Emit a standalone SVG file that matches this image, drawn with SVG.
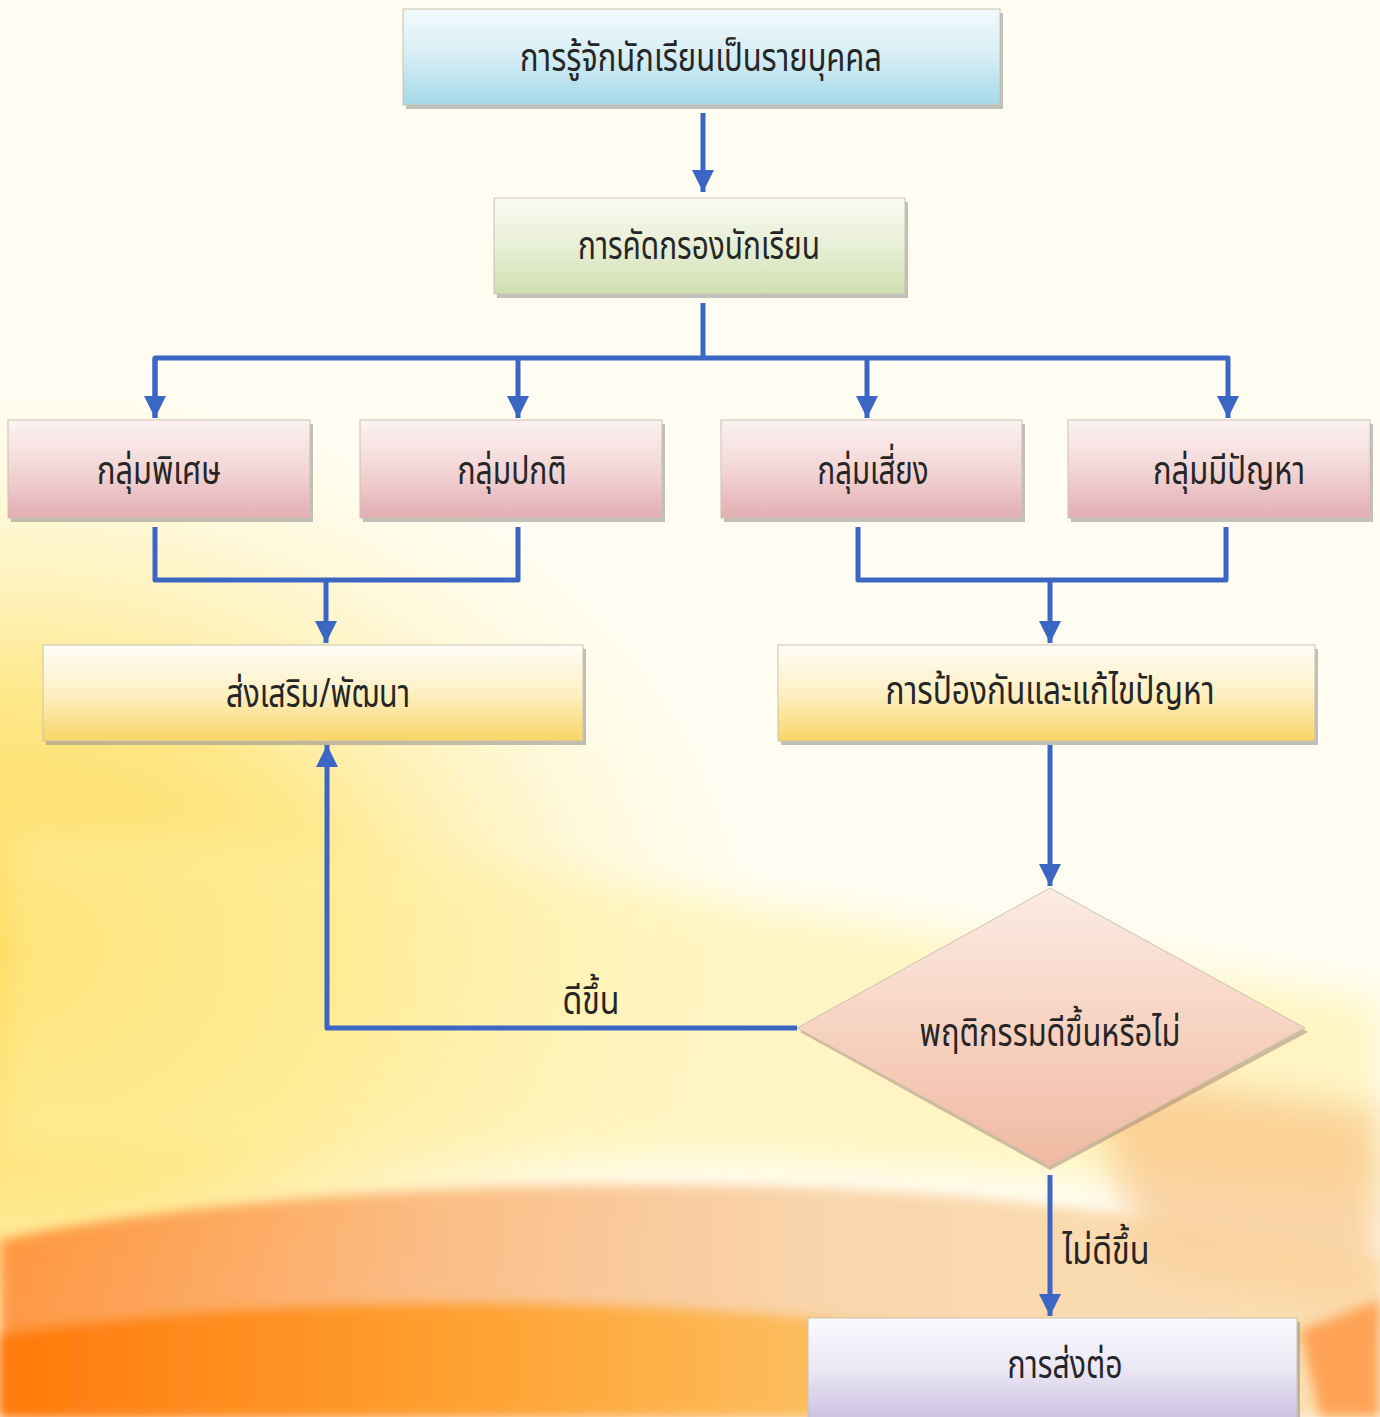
<svg xmlns="http://www.w3.org/2000/svg" width="1380" height="1417" viewBox="0 0 1380 1417">
<defs>
  <style>
    .lbl{font-family:"Noto Sans Thai","Loma","Garuda","Tlwg Typo","Norasi","DejaVu Sans","Noto Sans",sans-serif;font-size:40px;fill:#262626;text-anchor:middle}
    .conn{fill:none;stroke:#3b66c4;stroke-width:5;stroke-linejoin:round;stroke-linecap:butt}
    .edge{stroke:#c9c2b0;stroke-width:1}
    .shadow{fill:#8c8c8c;opacity:.55}
  </style>
  <marker id="ah" viewBox="0 0 10 10" refX="10" refY="5" markerWidth="22" markerHeight="22" markerUnits="userSpaceOnUse" orient="auto">
    <path d="M0,0 L10,5 L0,10 Z" fill="#3b66c4"/>
  </marker>
  <linearGradient id="gBlue" x1="0" y1="0" x2="0" y2="1">
    <stop offset="0" stop-color="#f3fafc"/><stop offset="0.45" stop-color="#d9eff6"/><stop offset="1" stop-color="#a6d8e9"/>
  </linearGradient>
  <linearGradient id="gGreen" x1="0" y1="0" x2="0" y2="1">
    <stop offset="0" stop-color="#f8faf1"/><stop offset="0.5" stop-color="#e8efd6"/><stop offset="1" stop-color="#cfdfb0"/>
  </linearGradient>
  <linearGradient id="gRed" x1="0" y1="0" x2="0" y2="1">
    <stop offset="0" stop-color="#fcf3f2"/><stop offset="0.5" stop-color="#f3d6d6"/><stop offset="1" stop-color="#e3aeb2"/>
  </linearGradient>
  <linearGradient id="gYellow" x1="0" y1="0" x2="0" y2="1">
    <stop offset="0" stop-color="#fffef8"/><stop offset="0.5" stop-color="#fdf0c4"/><stop offset="1" stop-color="#f9d566"/>
  </linearGradient>
  <linearGradient id="gPeach" x1="0" y1="0" x2="0" y2="1">
    <stop offset="0" stop-color="#fcebe3"/><stop offset="0.5" stop-color="#f7d3c2"/><stop offset="1" stop-color="#f0b9a1"/>
  </linearGradient>
  <linearGradient id="gPurple" x1="0" y1="0" x2="0" y2="1">
    <stop offset="0" stop-color="#fbfbfe"/><stop offset="0.5" stop-color="#ebe7f4"/><stop offset="1" stop-color="#cbc1e2"/>
  </linearGradient>
  <radialGradient id="bgYellowL" cx="0" cy="950" r="760" gradientUnits="userSpaceOnUse" gradientTransform="translate(0 950) scale(1 0.75) translate(0 -950)">
    <stop offset="0" stop-color="#ffd650"/><stop offset="0.45" stop-color="#ffe88a"/><stop offset="1" stop-color="#fff6c8" stop-opacity="0"/>
  </radialGradient>
  <linearGradient id="bgBottom" x1="0" y1="0" x2="1" y2="0">
    <stop offset="0" stop-color="#ff7a20"/><stop offset="0.3" stop-color="#f9a868"/><stop offset="0.6" stop-color="#f8c995"/><stop offset="1" stop-color="#fbd7a0"/>
  </linearGradient>
  <linearGradient id="bgBottom2" x1="0" y1="0" x2="1" y2="0">
    <stop offset="0" stop-color="#ff7a0c"/><stop offset="0.35" stop-color="#ffa030"/><stop offset="0.7" stop-color="#fcc56a"/><stop offset="1" stop-color="#ff9a45"/>
  </linearGradient>
  <filter id="blur" x="-20%" y="-20%" width="140%" height="140%"><feGaussianBlur stdDeviation="18"/></filter>
  <filter id="blurS" x="-20%" y="-20%" width="140%" height="140%"><feGaussianBlur stdDeviation="6"/></filter>
</defs>

<g id="background">
  <rect x="0" y="0" width="1380" height="1417" fill="#fffdf2"/>
  <rect x="0" y="400" width="1380" height="1017" fill="url(#bgYellowL)"/>
  <path d="M0,820 C400,840 900,930 1380,1000 L1380,1200 C900,1160 400,1150 0,1150 Z" fill="#fff0a0" opacity="0.55" filter="url(#blur)"/>
  <path d="M1080,1070 L1380,1110 L1380,1320 L1150,1270 Z" fill="#f8c080" opacity="0.65" filter="url(#blur)"/>
  <path d="M0,1240 C250,1185 700,1170 1000,1200 C1150,1215 1300,1240 1380,1260 L1380,1417 L0,1417 Z" fill="url(#bgBottom)" opacity="0.75" filter="url(#blurS)"/>
  <path d="M0,1335 C300,1290 700,1295 1000,1340 C1150,1365 1250,1395 1300,1417 L0,1417 Z" fill="url(#bgBottom2)" filter="url(#blurS)"/>
  <path d="M1300,1330 L1380,1300 L1380,1417 L1320,1417 Z" fill="#ff9540" opacity="0.8" filter="url(#blurS)"/>
</g>

<g id="connectors">
  <path class="conn" d="M703,113 V192" marker-end="url(#ah)"/>
  <path class="conn" d="M703,303 V358"/>
  <path class="conn" d="M155,418 V358 H1228 V418" marker-end="url(#ah)"/>
  <path class="conn" d="M155,358 V418" marker-end="url(#ah)"/>
  <path class="conn" d="M518,358 V418" marker-end="url(#ah)"/>
  <path class="conn" d="M867,358 V418" marker-end="url(#ah)"/>
  <path class="conn" d="M155,527 V580 H518 V527"/>
  <path class="conn" d="M326,580 V643" marker-end="url(#ah)"/>
  <path class="conn" d="M858,527 V580 H1226 V527"/>
  <path class="conn" d="M1050,580 V643" marker-end="url(#ah)"/>
  <path class="conn" d="M1050,745 V886" marker-end="url(#ah)"/>
  <path class="conn" d="M797,1028 H327 V745" marker-end="url(#ah)"/>
  <path class="conn" d="M1050,1175 V1316" marker-end="url(#ah)"/>
  <text class="lbl" x="591" y="1014" textLength="57" lengthAdjust="spacingAndGlyphs">ดีขึ้น</text>
  <text class="lbl" x="1106" y="1264" textLength="87" lengthAdjust="spacingAndGlyphs">ไม่ดีขึ้น</text>
</g>

<g id="n1">
  <rect class="shadow" x="406" y="13" width="597" height="96"/>
  <rect class="edge" x="403" y="9" width="597" height="96" fill="url(#gBlue)"/>
  <text class="lbl" x="701" y="71" textLength="362" lengthAdjust="spacingAndGlyphs">การรู้จักนักเรียนเป็นรายบุคคล</text>
</g>
<g id="n2">
  <rect class="shadow" x="497" y="202" width="411" height="96"/>
  <rect class="edge" x="494" y="198" width="411" height="96" fill="url(#gGreen)"/>
  <text class="lbl" x="699" y="259" textLength="242" lengthAdjust="spacingAndGlyphs">การคัดกรองนักเรียน</text>
</g>
<g id="n3">
  <rect class="shadow" x="11" y="424" width="302" height="98"/>
  <rect class="edge" x="8" y="420" width="302" height="98" fill="url(#gRed)"/>
  <text class="lbl" x="159" y="484" textLength="124" lengthAdjust="spacingAndGlyphs">กลุ่มพิเศษ</text>
</g>
<g id="n4">
  <rect class="shadow" x="363" y="424" width="302" height="98"/>
  <rect class="edge" x="360" y="420" width="302" height="98" fill="url(#gRed)"/>
  <text class="lbl" x="512" y="484" textLength="109" lengthAdjust="spacingAndGlyphs">กลุ่มปกติ</text>
</g>
<g id="n5">
  <rect class="shadow" x="724" y="424" width="301" height="98"/>
  <rect class="edge" x="721" y="420" width="301" height="98" fill="url(#gRed)"/>
  <text class="lbl" x="873" y="484" textLength="111" lengthAdjust="spacingAndGlyphs">กลุ่มเสี่ยง</text>
</g>
<g id="n6">
  <rect class="shadow" x="1071" y="424" width="302" height="98"/>
  <rect class="edge" x="1068" y="420" width="302" height="98" fill="url(#gRed)"/>
  <text class="lbl" x="1229" y="484" textLength="152" lengthAdjust="spacingAndGlyphs">กลุ่มมีปัญหา</text>
</g>
<g id="n7">
  <rect class="shadow" x="46" y="649" width="540" height="96"/>
  <rect class="edge" x="43" y="645" width="540" height="96" fill="url(#gYellow)"/>
  <text class="lbl" x="318" y="707" textLength="184" lengthAdjust="spacingAndGlyphs">ส่งเสริม/พัฒนา</text>
</g>
<g id="n8">
  <rect class="shadow" x="781" y="649" width="537" height="96"/>
  <rect class="edge" x="778" y="645" width="537" height="96" fill="url(#gYellow)"/>
  <text class="lbl" x="1050" y="704" textLength="329" lengthAdjust="spacingAndGlyphs">การป้องกันและแก้ไขปัญหา</text>
</g>
<g id="n9">
  <polygon points="1050,892 1308,1032 1050,1170 800,1032" fill="#a08070" opacity="0.5"/>
  <polygon class="edge" points="1050,888 1305,1028 1050,1166 797,1028" fill="url(#gPeach)"/>
  <text class="lbl" x="1050" y="1046" textLength="261" lengthAdjust="spacingAndGlyphs">พฤติกรรมดีขึ้นหรือไม่</text>
</g>
<g id="n10">
  <rect class="shadow" x="811" y="1322" width="489" height="99"/>
  <rect class="edge" x="808" y="1318" width="489" height="102" fill="url(#gPurple)"/>
  <text class="lbl" x="1065" y="1378" textLength="115" lengthAdjust="spacingAndGlyphs">การส่งต่อ</text>
</g>
</svg>
